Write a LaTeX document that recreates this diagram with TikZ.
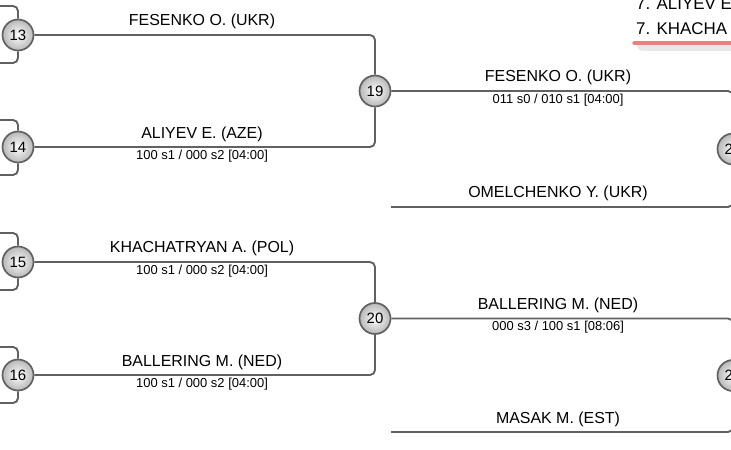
\documentclass[tikz,border=0pt]{standalone}
\usepackage{fontspec}
\setmainfont{Liberation Sans}
\usetikzlibrary{positioning}
\colorlet{wiregray}{black!62}
\definecolor{legendred}{HTML}{F07F7F}

\begin{document}
\begin{tikzpicture}[x=1bp, y=-1bp,
    wire/.style={draw=wiregray, line width=1.9bp, rounded corners=5bp},
    seed/.style={circle, draw=wiregray, line width=1.7bp, inner sep=0pt, minimum size=31bp,
      inner color=white, outer color=black!28, font=\fontsize{15}{17}\selectfont},
    athlete/.style={anchor=base, inner sep=0pt, font=\fontsize{16}{19}\selectfont},
    score/.style={anchor=north, inner sep=0pt, font=\fontsize{13}{15}\selectfont}]
  \useasboundingbox (0,0) rectangle (731,450);
  \clip (0,0) rectangle (731,450);

  % bouts
  \node[seed] (c13) at (18,35) {13};
  \node[seed] (c14) at (18,147) {14};
  \node[seed] (c15) at (18,262) {15};
  \node[seed] (c16) at (18,375) {16};
  \node[seed] (c19) at (375,91) {19};
  \node[seed] (c20) at (375,318.5) {20};
  \node[seed] (c21) at (733,149) {2\phantom{0}};
  \node[seed] (c22) at (733,375.5) {2\phantom{0}};
  \coordinate (omel) at (391,207);
  \coordinate (masak) at (391,432);

  % earlier rounds
  \foreach \s/\t/\b in {13/6/63, 14/120/175, 15/233/290, 16/347/403} {
    \coordinate (up\s) at (-5,\t);
    \coordinate (down\s) at (-5,\b);
    \draw[wire] (c\s.north) |- (up\s);
    \draw[wire] (c\s.south) |- (down\s);
  }

  \draw[wire] (c13.east) -| (c19.north);
  \draw[wire] (c14.east) -| (c19.south);
  \draw[wire] (c15.east) -| (c20.north);
  \draw[wire] (c16.east) -| (c20.south);
  \draw[wire] (c19.east) -| (c21.north);
  \draw[wire] (omel) -| (c21.south);
  \draw[wire] (c20.east) -| (c22.north);
  \draw[wire] (masak) -| (c22.south);

  % names and scores
  \node[athlete] (n13) at (202,25.5) {FESENKO O. (UKR)};
  \node[athlete] (n14) at (202,138.5) {ALIYEV E. (AZE)};
  \node[score] (s14) at (202,150) {100 s1 / 000 s2 [04:00]};
  \node[athlete] (n15) at (202,253) {KHACHATRYAN A. (POL)};
  \node[score] (s15) at (202,264.5) {100 s1 / 000 s2 [04:00]};
  \node[athlete] (n16) at (202,366) {BALLERING M. (NED)};
  \node[score] (s16) at (202,377.5) {100 s1 / 000 s2 [04:00]};

  \node[athlete] (n19) at (558,82) {FESENKO O. (UKR)};
  \node[score] (s19) at (558,94) {011 s0 / 010 s1 [04:00]};
  \node[athlete] (nomel) at (558,198) {OMELCHENKO Y. (UKR)};
  \node[athlete] (n20) at (558,309.5) {BALLERING M. (NED)};
  \node[score] (s20) at (558,321) {000 s3 / 100 s1 [08:06]};
  \node[athlete] (nmasak) at (558,423) {MASAK M. (EST)};

  % ranking box
  \fill[black!9, rounded corners=6bp] (637,-20) rectangle (760,51);
  \fill[white, rounded corners=6bp] (632,-20) rectangle (760,45);
  \draw[legendred, line width=4.5bp, line cap=round] (634.5,43) -- (760,43);
  \node[anchor=base west, inner sep=0pt, font=\fontsize{17}{20}\selectfont] (rank1) at (636,9.5) {7. ALIYEV E};
  \node[anchor=base west, inner sep=0pt, font=\fontsize{17}{20}\selectfont] (rank2) at (636,35) {7. KHACHA};
\end{tikzpicture}
\end{document}
